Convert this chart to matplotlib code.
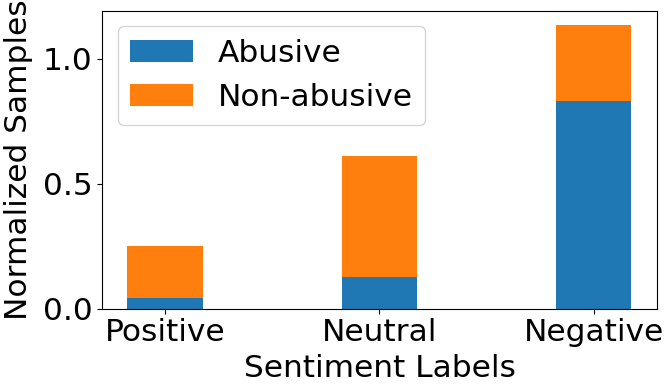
import matplotlib
matplotlib.use("Agg")
import matplotlib.pyplot as plt
import numpy as np

categories = ["Positive", "Neutral", "Negative"]
abusive = [0.042, 0.127, 0.831]
non_abusive = [0.209, 0.485, 0.305]

fs = 22.5
fig = plt.figure(figsize=(6.64, 3.92), dpi=100)
ax = fig.add_axes([0.154, 0.2125, 0.835, 0.7605])
x = np.arange(len(categories))
w = 0.35
ax.bar(x, abusive, w, label="Abusive", color="#1f77b4")
ax.bar(x, non_abusive, w, bottom=abusive, label="Non-abusive", color="#ff7f0e")
ax.set_xticks(x)
ax.set_xticklabels(categories)
ax.set_yticks([0.0, 0.5, 1.0])
ax.tick_params(labelsize=fs)
ax.set_xlabel("Sentiment Labels", fontsize=fs, labelpad=5)
ax.set_ylabel("Normalized Samples", fontsize=fs, labelpad=7)
ax.legend(fontsize=fs, loc="upper left")
fig.savefig("out.png", dpi=100)
